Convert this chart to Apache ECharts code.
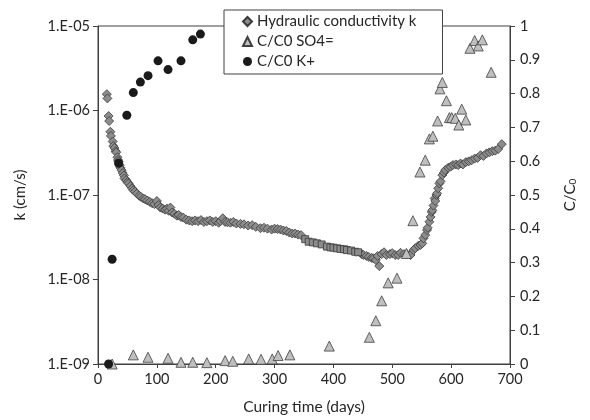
<!DOCTYPE html>
<html>
<head>
<meta charset="utf-8">
<script src="https://cdn.jsdelivr.net/npm/echarts@6/dist/echarts.min.js"></script>
<style>html,body{margin:0;padding:0;background:#fff}#c{width:590px;height:420px}</style>
</head>
<body>
<div id="c"></div>
<script>
// Hydraulic conductivity k (cm/s), diamonds
const kDays = [15,16,18,19,21,22,25,26,28,30,31,33,34,35,37,38,40,42,44,45,48,50,52,55,58,60,63,66,70,73,77,80,84,88,92,96,100,103,106,110,114,117,120,123,126,130,134,137,141,145,150,155,160,165,170,175,180,185,190,195,200,205,208,212,216,220,225,230,235,242,248,255,262,268,276,282,288,295,300,305,310,315,320,325,330,335,340,345,
  448,451,456,460,465,468,472,475,478,482,486,490,496,500,505,510,514,520,525,531,536,539,544,548,551,553,556,559,560,563,565,567,568,570,572,573,575,576,578,580,582,585,588,590,595,599,603,608,612,616,620,625,630,635,640,645,650,655,660,665,670,675,680,686];
const kValues = [1.56e-6,1.39e-6,8.6e-7,7.5e-7,5.6e-7,5.0e-7,4.3e-7,3.8e-7,3.6e-7,3.3e-7,3.2e-7,2.8e-7,2.6e-7,2.5e-7,2.25e-7,2.1e-7,1.97e-7,1.82e-7,1.7e-7,1.57e-7,1.5e-7,1.42e-7,1.37e-7,1.28e-7,1.2e-7,1.14e-7,1.1e-7,1.04e-7,9.8e-8,9.5e-8,9.1e-8,8.9e-8,8.6e-8,8.3e-8,8.0e-8,7.8e-8,8.5e-8,7.6e-8,7.1e-8,6.9e-8,6.7e-8,6.9e-8,6.5e-8,7.1e-8,6.2e-8,6.0e-8,5.7e-8,5.8e-8,5.5e-8,5.4e-8,5.1e-8,5.0e-8,4.9e-8,5.0e-8,4.9e-8,5.05e-8,4.8e-8,4.9e-8,5.0e-8,4.8e-8,4.9e-8,4.7e-8,4.9e-8,5.3e-8,4.8e-8,4.75e-8,4.7e-8,4.8e-8,4.6e-8,4.55e-8,4.5e-8,4.35e-8,4.4e-8,4.2e-8,4.05e-8,4.1e-8,4.0e-8,3.9e-8,4.0e-8,3.95e-8,3.9e-8,3.8e-8,3.75e-8,3.6e-8,3.5e-8,3.5e-8,3.4e-8,3.35e-8,
  2.0e-8,1.95e-8,1.9e-8,1.85e-8,1.8e-8,1.78e-8,1.7e-8,1.9e-8,1.44e-8,2.0e-8,2.1e-8,1.95e-8,2.0e-8,2.05e-8,1.95e-8,1.95e-8,2.07e-8,2.0e-8,1.99e-8,1.95e-8,2.23e-8,2.34e-8,2.5e-8,2.56e-8,2.68e-8,3.07e-8,3.36e-8,3.85e-8,4.1e-8,4.82e-8,5.5e-8,6.3e-8,6.6e-8,7.5e-8,9.1e-8,8.5e-8,1.0e-7,1.045e-7,1.2e-7,1.37e-7,1.45e-7,1.72e-7,1.85e-7,1.97e-7,2.1e-7,2.16e-7,2.26e-7,2.3e-7,2.26e-7,2.36e-7,2.3e-7,2.45e-7,2.5e-7,2.58e-7,2.7e-7,2.75e-7,2.96e-7,2.9e-7,3.1e-7,3.2e-7,3.3e-7,3.35e-7,3.5e-7,4.0e-7];
// square markers (same quantity, unlabeled)
const sqDays = [352,358,365,372,380,389,395,400,406,412,418,423,430,437,442];
const sqValues = [3.0e-8,2.8e-8,2.75e-8,2.68e-8,2.6e-8,2.45e-8,2.4e-8,2.38e-8,2.34e-8,2.3e-8,2.28e-8,2.23e-8,2.2e-8,2.13e-8,2.1e-8];
// C/C0 SO4=
const so4Days = [24,60,85,119,141,161,185,216,229,256,277,296,306,326,393,461,472,482,493,508,524,535,547,556,563,569,577,581,585,592,597,601,607,613,618,625,632,640,646,653,668];
const so4Values = [0,0.027,0.02,0.017,0.005,0.005,0.004,0.01,0.008,0.015,0.014,0.015,0.025,0.027,0.053,0.079,0.128,0.187,0.24,0.254,0.327,0.424,0.568,0.603,0.666,0.674,0.719,0.814,0.833,0.779,0.729,0.729,0.727,0.707,0.754,0.722,0.934,0.957,0.941,0.959,0.863];
// C/C0 K+
const kpDays = [18,24,35,49,60,72,85,102,119,141,161,174];
const kpValues = [0,0.31,0.594,0.736,0.803,0.834,0.853,0.897,0.871,0.897,0.959,0.976];
const leftTicks = ['1.E-09','1.E-08','1.E-07','1.E-06','1.E-05'];

const zip = (a,b) => a.map((x,i)=>[x,b[i]]);
const FONT = 'Lato';
const TXT = '#262626';
const chart = echarts.init(document.getElementById('c'));
chart.setOption({
  animation: false,
  textStyle: {fontFamily: FONT, color: TXT},
  grid: {left: 98, right: 80, top: 26, bottom: 56, show: true, borderColor: '#404040', borderWidth: 1, backgroundColor: 'transparent'},
  legend: {
    data: ['Hydraulic conductivity k','C/C0 SO4=','C/C0 K+'],
    orient: 'vertical', left: 224, top: 10,
    backgroundColor: '#fff', borderColor: '#404040', borderWidth: 1,
    padding: [4, 26, 5, 18], itemGap: 5, itemWidth: 9, itemHeight: 9,
    textStyle: {fontFamily: FONT, fontSize: 15, color: TXT}, z: 10
  },
  xAxis: {
    type: 'value', min: 0, max: 700, interval: 100,
    name: 'Curing time (days)', nameLocation: 'middle', nameGap: 35,
    nameTextStyle: {fontSize: 15.5, color: TXT, fontFamily: FONT},
    axisLine: {lineStyle: {color: '#404040'}},
    axisTick: {show: true, length: 4, lineStyle: {color: '#404040'}},
    axisLabel: {fontSize: 14.5, color: TXT, fontFamily: FONT, margin: 8},
    splitLine: {show: false}
  },
  yAxis: [{
    type: 'log', logBase: 10, min: 1e-9, max: 1e-5,
    name: 'k (cm/s)', nameLocation: 'middle', nameRotate: 90, nameGap: 70,
    nameTextStyle: {fontSize: 15, color: TXT, fontFamily: FONT},
    axisLine: {show: true, lineStyle: {color: '#404040'}},
    axisTick: {show: true, length: 5, lineStyle: {color: '#404040'}},
    axisLabel: {fontSize: 14.5, color: TXT, fontFamily: FONT, margin: 8,
      formatter: v => leftTicks[Math.round(Math.log10(v)) + 9]},
    splitLine: {show: false}, minorTick: {show: false}
  }, {
    type: 'value', min: 0, max: 1, interval: 0.1, position: 'right',
    name: '{a|C/C}{s|0}', nameLocation: 'middle', nameRotate: 90, nameGap: 52,
    nameTextStyle: {fontSize: 15, color: TXT, fontFamily: FONT,
      rich: {a: {fontSize: 15, color: TXT, fontFamily: FONT}, s: {fontSize: 10, color: TXT, fontFamily: FONT, verticalAlign: 'bottom', padding: [6,0,0,0]}}},
    axisLine: {show: true, lineStyle: {color: '#404040'}},
    axisTick: {show: true, length: 5, lineStyle: {color: '#404040'}},
    axisLabel: {fontSize: 14.5, color: TXT, fontFamily: FONT, margin: 10,
      formatter: v => String(Math.round(v*10)/10)},
    splitLine: {show: false}
  }],
  series: [{
    name: 'Hydraulic conductivity k', type: 'scatter', yAxisIndex: 0,
    symbol: 'diamond', symbolSize: 9,
    itemStyle: {color: '#8c8c8c', borderColor: '#3a3a3a', borderWidth: 0.8, opacity: 1},
    data: zip(kDays, kValues), z: 2
  }, {
    name: 'sq', type: 'scatter', yAxisIndex: 0,
    symbol: 'rect', symbolSize: 7,
    itemStyle: {color: '#8c8c8c', borderColor: '#3a3a3a', borderWidth: 0.8, opacity: 1},
    data: zip(sqDays, sqValues), z: 2
  }, {
    name: 'C/C0 SO4=', type: 'scatter', yAxisIndex: 1,
    symbol: 'triangle', symbolSize: 10,
    itemStyle: {color: '#bfbfbf', borderColor: '#404040', borderWidth: 0.8, opacity: 1},
    data: zip(so4Days, so4Values), z: 3
  }, {
    name: 'C/C0 K+', type: 'scatter', yAxisIndex: 1,
    symbol: 'circle', symbolSize: 9,
    itemStyle: {color: '#1a1a1a', opacity: 1},
    data: zip(kpDays, kpValues), z: 4
  }]
});
</script>
</body>
</html>
